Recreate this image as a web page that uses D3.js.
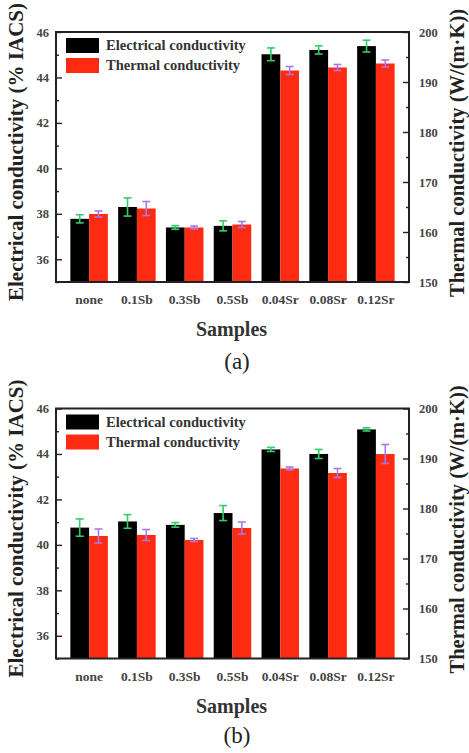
<!DOCTYPE html>
<html>
<head>
<meta charset="utf-8">
<script src="https://cdn.jsdelivr.net/npm/d3@7"></script>
<style>
  body { margin: 0; background: #fff; }
  svg { display: block; }
  text { font-family: "Liberation Serif", "Times New Roman", serif; }
</style>
</head>
<body>
<svg id="chart" width="469" height="753"></svg>
<script>
var samples = ['none', '0.1Sb', '0.3Sb', '0.5Sb', '0.04Sr', '0.08Sr', '0.12Sr'];
var seriesNames = ['Electrical conductivity', 'Thermal conductivity'];

// panel (a)
var elecA    = [37.78, 38.30, 37.40, 37.47, 45.02, 45.21, 45.38];
var elecErrA = [0.18, 0.40, 0.08, 0.22, 0.28, 0.18, 0.26];
var thermA    = [163.6, 164.7, 160.9, 161.5, 192.3, 192.9, 193.7];
var thermErrA = [0.6, 1.4, 0.3, 0.6, 0.8, 0.6, 0.7];

// panel (b)
var elecB    = [40.76, 41.03, 40.88, 41.40, 44.20, 44.00, 45.08];
var elecErrB = [0.38, 0.30, 0.10, 0.33, 0.09, 0.20, 0.07];
var thermB    = [174.5, 174.7, 173.7, 176.1, 188.0, 187.1, 190.9];
var thermErrB = [1.4, 1.1, 0.3, 1.2, 0.3, 0.9, 1.9];

var leftTicks = [36, 38, 40, 42, 44, 46];
var rightTicks = [150, 160, 170, 180, 190, 200];

var svg = d3.select('#chart');
var left = 56, right = 409, plotH = 250;
var colors = ['#000000', '#ff2a12'];
var errColors = ['#2fd06a', '#a878e8'];
var font = '"Liberation Serif", "Times New Roman", serif';

var drawPanel = function(top, elec, elecErr, therm, thermErr, tag, tagY) {
    var g = svg.append('g').attr('transform', 'translate(0,' + top + ')');
    var x0 = d3.scaleBand().domain(samples).range([left, right]).paddingInner(0.215).paddingOuter(0.3);
    var x1 = d3.scaleBand().domain([0, 1]).range([0, x0.bandwidth()]);
    var yl = d3.scaleLinear().domain([35, 46]).range([plotH, 0]);
    var yr = d3.scaleLinear().domain([150, 200]).range([plotH, 0]);

    var rows = samples.map(function(s, i) {
        return [
            {s: s, k: 0, v: elec[i], e: elecErr[i], y: yl},
            {s: s, k: 1, v: therm[i], e: thermErr[i], y: yr}
        ];
    });

    var grp = g.selectAll('g.grp').data(rows).enter().append('g')
        .attr('class', 'grp')
        .attr('transform', function(d) { return 'translate(' + x0(d[0].s) + ',0)'; });
    grp.selectAll('rect').data(function(d) { return d; }).enter().append('rect')
        .attr('x', function(d) { return x1(d.k); })
        .attr('y', function(d) { return d.y(d.v); })
        .attr('width', x1.bandwidth())
        .attr('height', function(d) { return plotH - d.y(d.v); })
        .attr('fill', function(d) { return colors[d.k]; });

    var eb = grp.selectAll('g.err').data(function(d) { return d; }).enter().append('g')
        .attr('class', 'err')
        .attr('stroke', function(d) { return errColors[d.k]; })
        .attr('stroke-width', 1.6);
    eb.append('line')
        .attr('x1', function(d) { return x1(d.k) + x1.bandwidth() / 2; })
        .attr('x2', function(d) { return x1(d.k) + x1.bandwidth() / 2; })
        .attr('y1', function(d) { return d.y(d.v - d.e); })
        .attr('y2', function(d) { return d.y(d.v + d.e); });
    [-1, 1].forEach(function(sg) {
        eb.append('line')
            .attr('x1', function(d) { return x1(d.k) + x1.bandwidth() / 2 - 4; })
            .attr('x2', function(d) { return x1(d.k) + x1.bandwidth() / 2 + 4; })
            .attr('y1', function(d) { return d.y(d.v + sg * d.e); })
            .attr('y2', function(d) { return d.y(d.v + sg * d.e); });
    });

    // axes
    var minorL = d3.range(35, 46.01, 1).filter(function(v) { return v % 2 === 1; });
    var minorR = d3.range(155, 200, 10);
    g.append('g').attr('transform', 'translate(' + left + ',0)')
        .call(d3.axisRight(yl).tickValues(minorL).tickSize(3).tickFormat(''));
    g.append('g').attr('transform', 'translate(' + right + ',0)')
        .call(d3.axisLeft(yr).tickValues(minorR).tickSize(3).tickFormat(''));
    var la = g.append('g').attr('transform', 'translate(' + left + ',0)')
        .call(d3.axisRight(yl).tickValues(leftTicks).tickSize(6).tickFormat(d3.format('d')));
    la.selectAll('text').attr('x', -7).attr('text-anchor', 'end');
    var ra = g.append('g').attr('transform', 'translate(' + right + ',0)')
        .call(d3.axisLeft(yr).tickValues(rightTicks).tickSize(6).tickFormat(d3.format('d')));
    ra.selectAll('text').attr('x', 10).attr('text-anchor', 'start');
    g.selectAll('.domain').remove();
    g.selectAll('.tick line').attr('stroke', '#222').attr('stroke-width', 1.4);
    g.selectAll('.tick text').attr('font-family', font).attr('font-weight', 'bold')
        .attr('font-size', 12.5).attr('fill', '#444');

    g.append('rect').attr('x', left).attr('y', 0).attr('width', right - left).attr('height', plotH)
        .attr('fill', 'none').attr('stroke', '#222').attr('stroke-width', 2);

    // category labels
    g.selectAll('text.cat').data(samples).enter().append('text')
        .attr('class', 'cat')
        .attr('x', function(d) { return x0(d) + x0.bandwidth() / 2; })
        .attr('y', plotH + 22)
        .attr('text-anchor', 'middle')
        .attr('font-size', 13.5).attr('font-weight', 'bold').attr('fill', '#444')
        .text(function(d) { return d; });

    g.append('text').attr('x', (left + right) / 2 - 1).attr('y', plotH + 54)
        .attr('text-anchor', 'middle').attr('font-size', 20).attr('font-weight', 'bold').attr('fill', '#333')
        .text('Samples');
    g.append('text').attr('x', 237).attr('y', tagY)
        .attr('text-anchor', 'middle').attr('font-size', 23).attr('fill', '#222')
        .text(tag);

    g.append('text').attr('transform', 'translate(23,' + (plotH / 2 - 5) + ') rotate(-90)')
        .attr('text-anchor', 'middle').attr('font-size', 21).attr('font-weight', 'bold').attr('fill', '#222')
        .text('Electrical conductivity (% IACS)');
    g.append('text').attr('transform', 'translate(464,' + (plotH / 2 - 4) + ') rotate(-90)')
        .attr('text-anchor', 'middle').attr('font-size', 20.5).attr('font-weight', 'bold').attr('fill', '#222')
        .text('Thermal conductivity (W/(m\u00b7K))');

    // legend
    var lg = g.selectAll('g.leg').data(seriesNames).enter().append('g')
        .attr('class', 'leg')
        .attr('transform', function(d, i) { return 'translate(66,' + (6 + i * 20) + ')'; });
    lg.append('rect').attr('width', 33).attr('height', 15)
        .attr('fill', function(d, i) { return colors[i]; });
    lg.append('text').attr('x', 40).attr('y', 12)
        .attr('font-size', 14.5).attr('font-weight', 'bold').attr('fill', '#333')
        .text(function(d) { return d; });
};

drawPanel(32, elecA, elecErrA, thermA, thermErrA, '(a)', 337);
drawPanel(408.5, elecB, elecErrB, thermB, thermErrB, '(b)', 334);
</script>
</body>
</html>
